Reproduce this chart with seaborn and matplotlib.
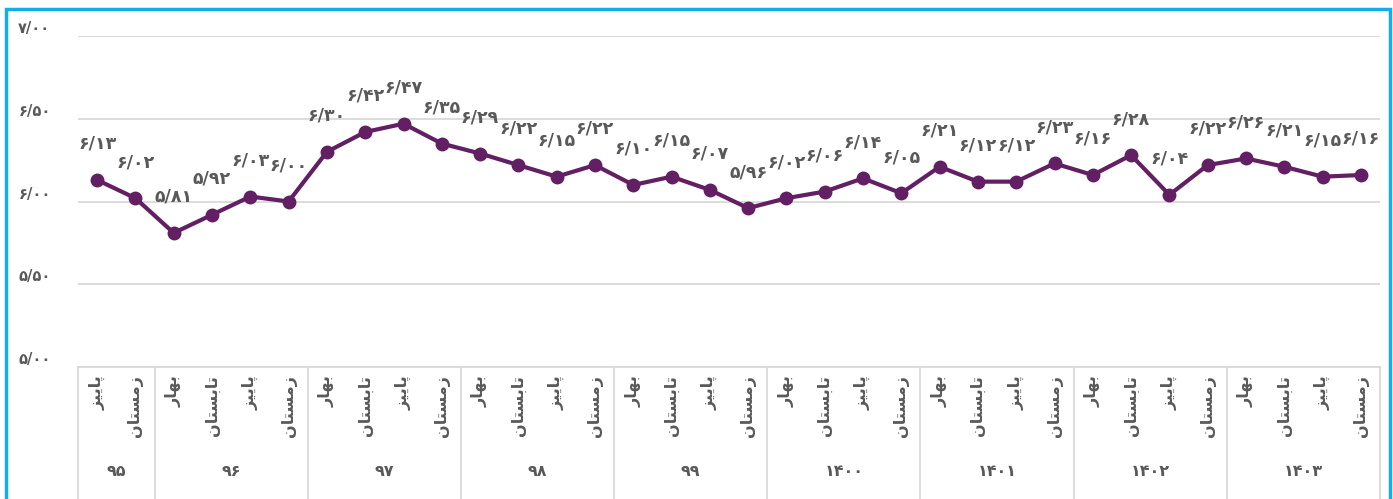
import matplotlib
matplotlib.use("Agg")
import matplotlib.pyplot as plt
import matplotlib.transforms as mtransforms
from matplotlib.patches import Rectangle
import pandas as pd
import seaborn as sns

# Data
years = ["95", "96", "97", "98", "99", "1400", "1401", "1402", "1403"]
seasons_first_year = ["پاییز", "زمستان"]
seasons = ["بهار", "تابستان", "پاییز", "زمستان"]
values = [6.13, 6.02,
          5.81, 5.92, 6.03, 6.00,
          6.30, 6.42, 6.47, 6.35,
          6.29, 6.22, 6.15, 6.22,
          6.10, 6.15, 6.07, 5.96,
          6.02, 6.06, 6.14, 6.05,
          6.21, 6.12, 6.12, 6.23,
          6.16, 6.28, 6.04, 6.22,
          6.26, 6.21, 6.15, 6.16]
y_ticks = [5.0, 5.5, 6.0, 6.5, 7.0]

LINE = "#621F63"
TEXT = "#595959"
GRID = "#D9D9D9"
BORDER = "#12ADEB"

# Persian digits, "/" as decimal mark
FA = str.maketrans("0123456789.", "۰۱۲۳۴۵۶۷۸۹/")


def fa(s):
    return str(s).translate(FA)


# minimal Persian shaping (matplotlib has no complex text layout)
FORMS = {  # isolated, final, initial, medial
    "ا": ("\uFE8D", "\uFE8E", None, None),
    "ب": ("\uFE8F", "\uFE90", "\uFE91", "\uFE92"),
    "پ": ("\uFB56", "\uFB57", "\uFB58", "\uFB59"),
    "ت": ("\uFE95", "\uFE96", "\uFE97", "\uFE98"),
    "ر": ("\uFEAD", "\uFEAE", None, None),
    "ز": ("\uFEAF", "\uFEB0", None, None),
    "س": ("\uFEB1", "\uFEB2", "\uFEB3", "\uFEB4"),
    "م": ("\uFEE1", "\uFEE2", "\uFEE3", "\uFEE4"),
    "ن": ("\uFEE5", "\uFEE6", "\uFEE7", "\uFEE8"),
    "ه": ("\uFEE9", "\uFEEA", "\uFEEB", "\uFEEC"),
    "ی": ("\uFBFC", "\uFBFD", "\uFBFE", "\uFBFF"),
}


def shape(word):
    out = []
    for i, ch in enumerate(word):
        iso, fin, ini, med = FORMS[ch]
        joins_prev = i > 0 and FORMS[word[i - 1]][2] is not None
        joins_next = i < len(word) - 1 and ini is not None
        if joins_prev and joins_next:
            out.append(med)
        elif joins_prev:
            out.append(fin)
        elif joins_next:
            out.append(ini)
        else:
            out.append(iso)
    return "".join(reversed(out))


season_labels = seasons_first_year + seasons * (len(years) - 1)
group_sizes = [len(seasons_first_year)] + [len(seasons)] * (len(years) - 1)
df = pd.DataFrame({"idx": range(len(values)), "value": values})

sns.set_theme(style="white")
plt.rcParams["font.family"] = ["DejaVu Sans"]
plt.rcParams["font.weight"] = "bold"

fig = plt.figure(figsize=(13.93, 4.99), dpi=100)
ax = fig.add_axes([78 / 1393, 1 - 367 / 499, (1380 - 78) / 1393, (367 - 36) / 499])

sns.lineplot(data=df, x="idx", y="value", ax=ax, color=LINE, linewidth=3,
             marker="o", markersize=10, markeredgewidth=0, zorder=3)

for x, v in zip(df["idx"], df["value"]):
    ax.annotate(fa(f"{v:.2f}"), (x, v), xytext=(0, 26), textcoords="offset points",
                ha="center", va="center", fontsize=12.5, fontweight="bold",
                color=TEXT)

ax.set_xlim(-0.5, len(values) - 0.5)
ax.set_ylim(y_ticks[0], y_ticks[-1])
ax.set_yticks(y_ticks)
ax.set_yticklabels([fa(f"{t:.2f}") for t in y_ticks])
ax.yaxis.grid(True, color=GRID, linewidth=1.3)
ax.tick_params(axis="y", length=0, pad=43, labelsize=10.5, labelcolor=TEXT)
for lab in ax.get_yticklabels():
    lab.set_horizontalalignment("left")
    lab.set_verticalalignment("bottom")

ax.set_xticks(range(len(values)))
ax.set_xticklabels([shape(s) for s in season_labels], rotation=90, va="top",
                   fontsize=11.5, fontweight="bold", color=TEXT)
ax.tick_params(axis="x", length=0, pad=6)
ax.set_xlabel("")
ax.set_ylabel("")

for side in ["top", "left", "right"]:
    ax.spines[side].set_visible(False)
ax.spines["bottom"].set_color(GRID)
ax.spines["bottom"].set_linewidth(1.3)

# year level of the category axis
trans = mtransforms.blended_transform_factory(ax.transData, ax.transAxes)
start = -0.5
ax.plot([start, start], [0, -0.4], transform=trans, clip_on=False, color=GRID, lw=1.3)
for year, size in zip(years, group_sizes):
    end = start + size
    ax.text((start + end) / 2, -0.317, fa(year), transform=trans, ha="center",
            va="center", fontsize=11.5, fontweight="bold", color=TEXT)
    ax.plot([end, end], [0, -0.4], transform=trans, clip_on=False, color=GRID, lw=1.3)
    start = end

# frame around the chart
fig.patches.append(Rectangle((6 / 1393, -0.02), (1390 - 6) / 1393, 1.02 - 9 / 499,
                             transform=fig.transFigure, fill=False,
                             edgecolor=BORDER, linewidth=2.5))

fig.savefig("out.png", dpi=100)
